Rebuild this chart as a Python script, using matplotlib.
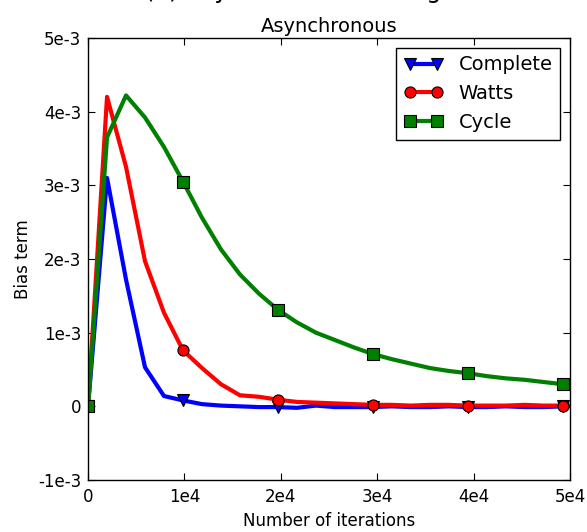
import numpy as np
import matplotlib
matplotlib.use("Agg")
import matplotlib.pyplot as plt

# iterations (x) and bias term values (in units of 1e-3)
iterations = [0, 1970, 3940, 5910, 7880, 9850, 11820, 13790, 15760, 17730,
              19700, 21670, 23640, 25610, 27580, 29550, 31520, 33490, 35460,
              37430, 39400, 41370, 43340, 45310, 47280, 49250, 51220]
complete = [0, 3.1, 1.72, 0.53, 0.14, 0.08, 0.03, 0.01, 0.0, -0.01, -0.01,
            -0.02, 0.01, -0.01, -0.01, -0.01, 0.0, -0.01, -0.01, 0.0, -0.01,
            -0.01, 0.0, -0.01, -0.01, 0.0, 0.0]
watts = [0, 4.2, 3.25, 1.97, 1.27, 0.76, 0.52, 0.30, 0.15, 0.13, 0.09, 0.06,
         0.05, 0.04, 0.03, 0.02, 0.02, 0.01, 0.02, 0.02, 0.01, 0.01, 0.01,
         0.02, 0.01, 0.01, 0.01]
cycle = [0, 3.65, 4.22, 3.92, 3.52, 3.05, 2.56, 2.13, 1.79, 1.53, 1.31, 1.14,
         1.00, 0.90, 0.80, 0.71, 0.64, 0.58, 0.52, 0.48, 0.45, 0.41, 0.38,
         0.36, 0.33, 0.30, 0.28]

xticks = [0, 10000, 20000, 30000, 40000, 50000]
xticklabels = ["0", "1e4", "2e4", "3e4", "4e4", "5e4"]
yticks = [-1e-3, 0, 1e-3, 2e-3, 3e-3, 4e-3, 5e-3]
yticklabels = ["-1e-3", "0", "1e-3", "2e-3", "3e-3", "4e-3", "5e-3"]

fig = plt.figure(figsize=(5.87, 5.32), dpi=100)
fig.patch.set_facecolor("white")
ax = fig.add_axes([0.15, 0.0977, 0.821, 0.831])

series = [
    ("Complete", complete, "blue", "v"),
    ("Watts", watts, "red", "o"),
    ("Cycle", cycle, "green", "s"),
]
for name, vals, color, marker in series:
    ax.plot(iterations, np.array(vals) * 1e-3, color=color, lw=3,
            marker=marker, markevery=5, markersize=8,
            markeredgecolor="black", markeredgewidth=0.8, label=name)

ax.set_xlim(0, 50000)
ax.set_ylim(-1e-3, 5e-3)
ax.set_xticks(xticks)
ax.set_xticklabels(xticklabels)
ax.set_yticks(yticks)
ax.set_yticklabels(yticklabels)
ax.tick_params(direction="in", top=True, right=True, length=5, labelsize=12)
ax.tick_params(axis="x", pad=6)
ax.tick_params(axis="y", pad=5)
for sp in ax.spines.values():
    sp.set_linewidth(1.0)

ax.set_xlabel("Number of iterations", fontsize=12)
ax.set_ylabel("Bias term", fontsize=12)
ax.set_title("Asynchronous", fontsize=14, pad=4)

leg = ax.legend(loc="upper right", numpoints=2, fontsize=14, fancybox=False,
                framealpha=1, edgecolor="black", borderaxespad=0.5,
                handlelength=2.0)
leg.get_frame().set_linewidth(1.0)

# caption of the parent figure, cut off at the top edge
fig.text(0.5, 1.004, "(b) Asynchronous setting", ha="center",
         va="baseline", fontsize=17)

fig.savefig("out.png", dpi=100, facecolor="white")
